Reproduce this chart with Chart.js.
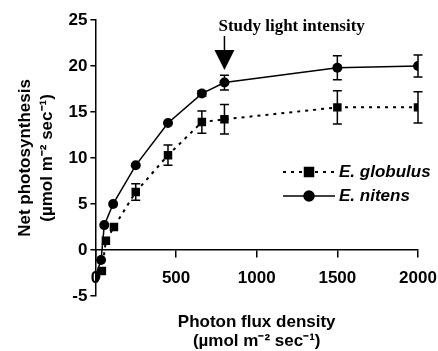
<!DOCTYPE html>
<html>
<head>
<meta charset="utf-8">
<script src="https://cdn.jsdelivr.net/npm/chart.js@4"></script>
<style>body{margin:0;background:#fff}</style>
</head>
<body>
<canvas id="lightChart" width="438" height="351"></canvas>
<script>
const xTicks = [0, 500, 1000, 1500, 2000];
const yTicks = [-5, 0, 5, 10, 15, 20, 25];

// E. globulus (squares, dotted)
const globulusPfd = [40, 65, 115, 250, 450, 660, 800, 1500, 2000];
const globulusRate = [-2.3, 1.0, 2.5, 6.3, 10.3, 13.9, 14.2, 15.5, 15.5];
const globulusErr = [0, 0, 0, 0.9, 1.1, 1.2, 1.6, 1.8, 1.7];

// E. nitens (circles, solid)
const nitensPfd = [0, 35, 55, 110, 250, 450, 660, 800, 1500, 2000];
const nitensRate = [-2.9, -1.1, 2.7, 5.0, 9.2, 13.8, 17.0, 18.2, 19.8, 20.0];
const nitensErr = [0, 0, 0, 0, 0, 0, 0.3, 0.8, 1.3, 1.2];

const studyLight = 800;
const studyLabel = 'Study light intensity';

const toPoints = (xs, ys) => xs.map((x, i) => ({ x: x, y: ys[i] }));
const errorSets = [globulusErr, nitensErr];

Chart.defaults.color = '#000';
Chart.defaults.font.family = 'Arial, "Liberation Sans", sans-serif';

const errorBars = {
  id: 'errorBars',
  afterDatasetsDraw(chart) {
    const { ctx, scales: { x, y } } = chart;
    ctx.save();
    ctx.strokeStyle = '#000';
    ctx.lineWidth = 1.5;
    chart.data.datasets.forEach((ds, i) => {
      errorSets[i].forEach((e, j) => {
        if (!e) return;
        const p = ds.data[j];
        const px = x.getPixelForValue(p.x);
        const top = y.getPixelForValue(p.y + e);
        const bot = y.getPixelForValue(p.y - e);
        ctx.beginPath();
        ctx.moveTo(px, top); ctx.lineTo(px, bot);
        ctx.moveTo(px - 4.5, top); ctx.lineTo(px + 4.5, top);
        ctx.moveTo(px - 4.5, bot); ctx.lineTo(px + 4.5, bot);
        ctx.stroke();
      });
    });
    ctx.restore();
  }
};

const studyArrow = {
  id: 'studyArrow',
  afterDraw(chart) {
    const { ctx, chartArea, scales: { x } } = chart;
    const ax = x.getPixelForValue(studyLight);
    const t = chartArea.top;
    ctx.save();
    ctx.fillStyle = '#000';
    ctx.strokeStyle = '#000';
    ctx.font = 'bold 17px "Times New Roman", "Liberation Serif", serif';
    ctx.textBaseline = 'alphabetic';
    ctx.fillText(studyLabel, ax - 6, t + 11);
    ctx.lineWidth = 1.5;
    ctx.beginPath();
    ctx.moveTo(ax, t + 16);
    ctx.lineTo(ax, t + 31);
    ctx.stroke();
    ctx.beginPath();
    ctx.moveTo(ax - 10, t + 30);
    ctx.lineTo(ax + 10, t + 30);
    ctx.lineTo(ax, t + 50);
    ctx.closePath();
    ctx.fill();
    ctx.restore();
  }
};

const sideLegend = {
  id: 'sideLegend',
  afterDraw(chart) {
    const { ctx } = chart;
    const rows = [172, 196];
    ctx.save();
    chart.data.datasets.forEach((ds, i) => {
      const y = rows[i];
      ctx.strokeStyle = '#000';
      ctx.fillStyle = '#000';
      ctx.lineWidth = ds.borderWidth;
      ctx.setLineDash(ds.borderDash || []);
      ctx.beginPath();
      ctx.moveTo(283, y);
      ctx.lineTo(335, y);
      ctx.stroke();
      ctx.setLineDash([]);
      Chart.helpers.drawPoint(ctx, { pointStyle: ds.pointStyle, radius: ds.pointRadius, borderWidth: 1 }, 309, y);
      ctx.fill();
      ctx.font = 'italic bold 17px Arial, "Liberation Sans", sans-serif';
      ctx.textBaseline = 'middle';
      ctx.fillText(ds.label, 339, y);
    });
    ctx.restore();
  }
};

new Chart(document.getElementById('lightChart'), {
  type: 'scatter',
  data: {
    datasets: [
      {
        label: 'E. globulus',
        data: toPoints(globulusPfd, globulusRate),
        showLine: true,
        borderColor: '#000',
        backgroundColor: '#000',
        borderWidth: 2,
        borderDash: [3, 5],
        pointStyle: 'rect',
        pointRadius: 6,
        pointBorderWidth: 0
      },
      {
        label: 'E. nitens',
        data: toPoints(nitensPfd, nitensRate),
        showLine: true,
        borderColor: '#000',
        backgroundColor: '#000',
        borderWidth: 1.5,
        pointStyle: 'circle',
        pointRadius: 5,
        pointBorderWidth: 0
      }
    ]
  },
  options: {
    responsive: false,
    animation: false,
    layout: { padding: { left: 15, top: 20, right: 20, bottom: 0 } },
    plugins: {
      legend: { display: false },
      tooltip: { enabled: false },
      title: {
        display: true,
        position: 'bottom',
        fullSize: false,
        text: ['Photon flux density', '(\u00b5mol m\u207b\u00b2 sec\u207b\u00b9)'],
        font: { size: 17, weight: 'bold', lineHeight: 1.12 },
        padding: { top: 17, bottom: 0 }
      }
    },
    scales: {
      x: {
        type: 'linear',
        position: { y: 0 },
        min: 0,
        max: 2000,
        afterBuildTicks: (axis) => { axis.ticks = xTicks.map(v => ({ value: v })); },
        afterFit: (axis) => { axis.paddingLeft = 0; axis.paddingRight = 0; },
        ticks: { font: { size: 17, weight: 'bold' }, padding: 11, maxRotation: 0, callback: (v) => String(v) },
        grid: { drawOnChartArea: false, tickLength: 7, color: '#000', lineWidth: 1.5 },
        border: { color: '#000', width: 1.5 }
      },
      y: {
        position: 'left',
        min: -5,
        max: 25,
        afterBuildTicks: (axis) => { axis.ticks = yTicks.map(v => ({ value: v })); },
        ticks: { font: { size: 17, weight: 'bold' }, padding: 3 },
        grid: { drawOnChartArea: false, tickLength: 5, color: '#000', lineWidth: 1.5 },
        border: { color: '#000', width: 1.5 },
        title: {
          display: true,
          text: ['Net photosynthesis', '(\u00b5mol m\u207b\u00b2 sec\u207b\u00b9)'],
          font: { size: 17, weight: 'bold', lineHeight: 1.25 },
          padding: { top: 0, bottom: 8 }
        }
      }
    }
  },
  plugins: [errorBars, studyArrow, sideLegend]
});
</script>
</body>
</html>
